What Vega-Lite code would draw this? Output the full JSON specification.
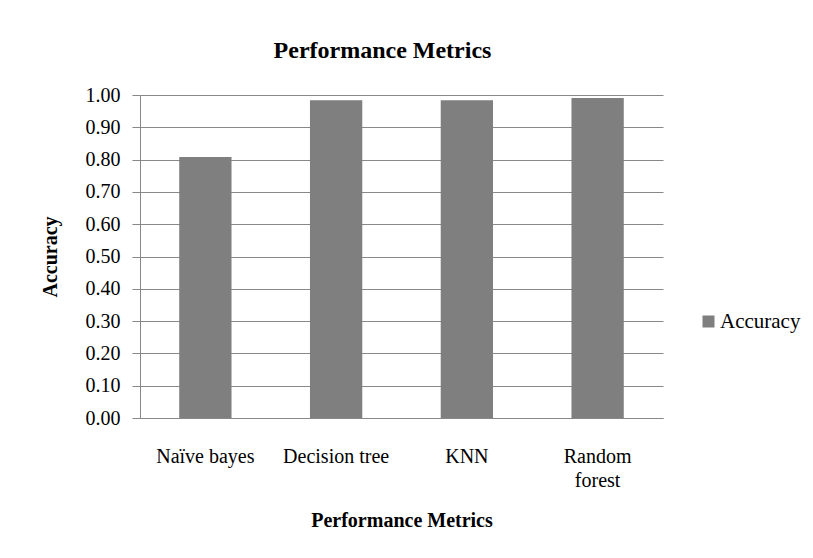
{
  "$schema": "https://vega.github.io/schema/vega-lite/v6.json",
  "width": 523,
  "height": 323,
  "autosize": {"type": "none"},
  "padding": {"left": 140, "top": 95, "right": 150, "bottom": 140},
  "background": "white",
  "title": {
    "text": "Performance Metrics",
    "font": "Liberation Serif",
    "fontSize": 24,
    "fontWeight": "bold",
    "color": "#000000",
    "anchor": "middle",
    "dx": -19,
    "offset": 22
  },
  "data": {
    "values": [
      {"model": "Naïve bayes", "series": "Accuracy", "accuracy": 0.808},
      {"model": "Decision tree", "series": "Accuracy", "accuracy": 0.984},
      {"model": "KNN", "series": "Accuracy", "accuracy": 0.984},
      {"model": "Random forest", "series": "Accuracy", "accuracy": 0.991}
    ]
  },
  "mark": {"type": "bar", "color": "#7f7f7f"},
  "encoding": {
    "x": {
      "field": "model",
      "type": "nominal",
      "sort": null,
      "scale": {"paddingInner": 0.6, "paddingOuter": 0.3},
      "axis": {
        "title": "Performance Metrics",
        "titleFont": "Liberation Serif",
        "titleFontSize": 20,
        "titleFontWeight": "bold",
        "titleColor": "#000000",
        "titlePadding": 20,
        "labelFont": "Liberation Serif",
        "labelFontSize": 20,
        "labelColor": "#000000",
        "labelAngle": 0,
        "labelPadding": 28,
        "labelLineHeight": 24,
        "labelExpr": "datum.label == 'Random forest' ? ['Random', 'forest'] : datum.label",
        "ticks": false,
        "domainColor": "#888888",
        "domainWidth": 1,
        "grid": false
      }
    },
    "y": {
      "field": "accuracy",
      "type": "quantitative",
      "scale": {"domain": [0, 1]},
      "axis": {
        "title": "Accuracy",
        "titleFont": "Liberation Serif",
        "titleFontSize": 20,
        "titleFontWeight": "bold",
        "titleColor": "#000000",
        "titlePadding": 25,
        "values": [0, 0.1, 0.2, 0.3, 0.4, 0.5, 0.6, 0.7, 0.8, 0.9, 1.0],
        "format": ".2f",
        "labelFont": "Liberation Serif",
        "labelFontSize": 20,
        "labelColor": "#000000",
        "labelPadding": 12,
        "tickSize": 8,
        "tickColor": "#888888",
        "domainColor": "#888888",
        "gridColor": "#888888",
        "gridWidth": 1,
        "grid": true
      }
    },
    "fill": {
      "field": "series",
      "type": "nominal",
      "scale": {"range": ["#7f7f7f"]},
      "legend": {
        "title": null,
        "orient": "none",
        "legendX": 558,
        "legendY": 216,
        "symbolType": "square",
        "symbolSize": 144,
        "symbolStrokeWidth": 0,
        "labelFont": "Liberation Serif",
        "labelFontSize": 21,
        "labelColor": "#000000",
        "labelOffset": 1
      }
    }
  },
  "config": {
    "view": {"stroke": null}
  }
}
